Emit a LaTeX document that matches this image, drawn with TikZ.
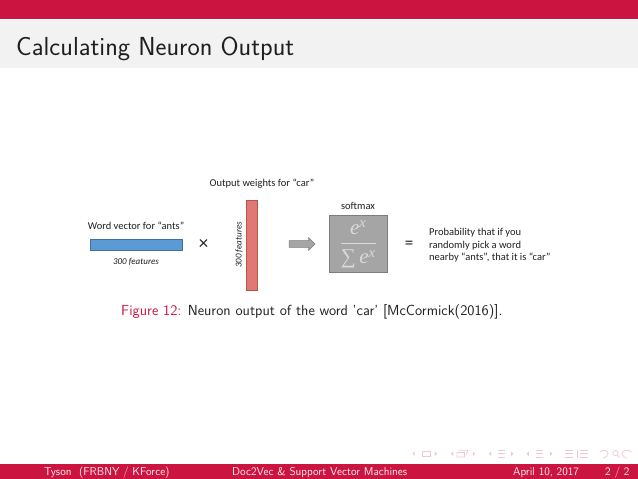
\documentclass[tikz,border=0pt]{standalone}
\usepackage{amsmath}
\usepackage{fontspec}
\usepackage{xcolor}
\usetikzlibrary{shapes.arrows}
\newfontfamily\calfont{Carlito}
\newfontfamily\serfont{Liberation Serif}
\definecolor{bandred}{HTML}{CC1440}
\definecolor{bandgray}{HTML}{F2F2F2}
\definecolor{navpink}{HTML}{F3C6D4}
\definecolor{wordblue}{RGB}{91,155,213}
\definecolor{wordedge}{RGB}{65,113,156}
\definecolor{weightred}{RGB}{224,120,118}
\definecolor{weightedge}{RGB}{174,90,70}
\definecolor{softfill}{RGB}{165,165,165}
\definecolor{softedge}{RGB}{125,125,125}
\definecolor{softtext}{RGB}{218,218,218}
\newcommand{\sz}[1]{\fontsize{#1}{#1}\selectfont}
\newcommand{\softe}{\text{\serfont\itshape e}^{\text{\serfont\itshape x}}}
\tikzset{
    lab/.style={font=\calfont\sz{10.5},text=black!88,inner sep=0pt},
    feat/.style={lab,font=\calfont\itshape\sz{9}},
    foot/.style={font=\sffamily\sz{11.4},text=white!92!bandred,inner sep=0pt,anchor=base west},
    softbox/.style={draw=softedge,fill=softfill,line width=0.5pt},
    nav/.style={fill=navpink,draw=none},
    navline/.style={draw=navpink,line width=0.7pt}
}
\begin{document}
\begin{tikzpicture}[x=1pt,y=-1pt]
    \useasboundingbox (0,0) rectangle (638,479);
    % draw bands
    \fill[bandred] (0,0) rectangle (638,19);
    \fill[bandgray] (0,19.5) rectangle (638,68);
    \fill[bandred] (0,463.5) rectangle (638,479);
    \node[anchor=base west,inner sep=0pt,font=\sffamily\sz{26.1},text=black!88] (title) at (16,56)
        {Calculating Neuron Output};
    % draw vectors
    \node[lab] (wordlab) at (136,226) {Word vector for “ants”};
    \draw[line width=0.6pt,fill=wordblue,draw=wordedge] (90.7,239) rectangle (182,250);
    \node[feat] (wordfeat) at (136,262) {300 features};
    \node[lab,font=\calfont\sz{19}] (times) at (203.5,245) {×};
    \node[lab] (weightlab) at (262,183.5) {Output weights for “car”};
    \draw[line width=0.6pt,fill=weightred,draw=weightedge] (246.5,200) rectangle (257.3,290.3);
    \node[feat,rotate=90] (weightfeat) at (239,245) {300 features};
    % draw softmax
    \node[softbox,single arrow,minimum width=12.5pt,minimum height=26pt,inner sep=3.2pt,
        single arrow head extend=3pt,single arrow tip angle=90] (arrow) at (300.3,244) {};
    \node[lab] (softlab) at (358,206) {softmax};
    \node[softbox,inner sep=0pt,minimum width=58pt,minimum height=57.4pt,text=softtext] (softmax) at (358.3,244)
        {\sz{21}$\dfrac{\softe}{\text{\serfont ∑}\,\softe}$};
    \node[lab,font=\calfont\sz{17}] (equals) at (409,245) {=};
    \node[lab,align=left,anchor=west,font=\calfont\fontsize{10.5}{12.6}\selectfont] (prob) at (429,245.5)
        {Probability that if you\\randomly pick a word\\nearby “ants”, that it is “car”};
    % draw caption
    \node[anchor=base west,inner sep=0pt,font=\sffamily\sz{14.6},text=black!88] (caption) at (121,315)
        {\textcolor{bandred}{Figure 12:} Neuron output of the word 'car' [McCormick(2016)].};
    % draw footer
    \node[foot] (footauthor) at (44,475) {Tyson \ (FRBNY / KForce)};
    \node[foot] (foottitle) at (232,475) {Doc2Vec \& Support Vector Machines};
    \node[foot] (footdate) at (513,475) {April 10, 2017};
    \node[foot] (footpage) at (605,475) {2 / 2};
    % draw navigation symbols
    \foreach \a/\b in {412.5/437,451/475,489/513.3,526.7/552.3} {
        \fill[nav] (\a,453.7) -- (\a+2.2,451.5) -- (\a+2.2,456) -- cycle;
        \fill[nav] (\b,453.7) -- (\b-2.2,451.5) -- (\b-2.2,456) -- cycle;
    }
    \draw[navline] (422,451) rectangle (430,456.3);
    \draw[navline] (457,452.5) rectangle (464.5,457) (459,450.3) -- (468,450.3) -- (466,455);
    \foreach \x in {498,536} {
        \draw[navline] (\x,450) -- (\x+7,450) (\x,453.7) -- (\x+7,453.7) (\x,457.2) -- (\x+7,457.2);
    }
    \draw[navline] (565,450) -- (573,450) (565,453.7) -- (573,453.7) (565,457.2) -- (573,457.2)
        (577.3,449.5) -- (577.3,458) (580,450) -- (588,450) (580,453.7) -- (588,453.7) (580,457.2) -- (588,457.2);
    \draw[navline] (600,452) .. controls (603,449) and (608,450) .. (608,453.5) .. controls (608,456) and (605,458) .. (603,458);
    \draw[navline] (615.5,453) circle[radius=2.6pt] (617.5,455) -- (619.5,457.5);
    \draw[navline] (631.5,452) .. controls (628,449) and (622,450) .. (622,453.5) .. controls (622,456) and (625,458) .. (627,458);
\end{tikzpicture}
\end{document}
